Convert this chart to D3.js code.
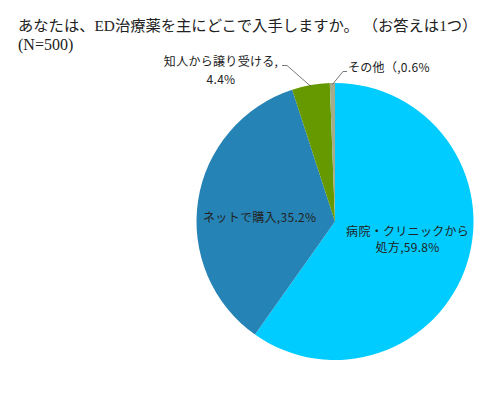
<!DOCTYPE html>
<html>
<head>
<meta charset="utf-8">
<script src="https://cdn.jsdelivr.net/npm/d3@7"></script>
<style>
body { margin: 0; background: #fff; }
</style>
</head>
<body>
<script>
const categories = ['病院・クリニックから処方', 'ネットで購入', '知人から譲り受ける', 'その他（'];
const values = [59.8, 35.2, 4.4, 0.6];
const colors = ['#00ccff', '#2683b5', '#669900', '#a3ad8c'];
const titleLines = ['あなたは、ED治療薬を主にどこで入手しますか。 （お答えは1つ）', '(N=500)'];

const width = 500;
const height = 395;

const svg = d3.select('body').append('svg')
  .attr('width', width)
  .attr('height', height);

svg.selectAll('text.title')
  .data(titleLines)
  .join('text')
  .attr('class', 'title')
  .attr('x', 18)
  .attr('y', (d, i) => 31 + i * 19)
  .attr('font-family', '"Liberation Serif", "Noto Sans CJK JP", serif')
  .attr('font-size', (d, i) => i === 0 ? 15.3 : 16)
  .attr('fill', '#222')
  .text(d => d);

const cx = 335, cy = 221.5, r = 138.5;

const data = categories.map((c, i) => ({ name: c, value: values[i], color: colors[i] }));

const pie = d3.pie().sort(null).value(d => d.value);
const arcs = pie(data);
const arc = d3.arc().innerRadius(0).outerRadius(r);
const inner = d3.arc().innerRadius(r * 0.55).outerRadius(r * 0.55);
const edge = d3.arc().innerRadius(r * 0.99).outerRadius(r * 0.99);

const g = svg.append('g').attr('transform', `translate(${cx},${cy})`);

g.selectAll('path')
  .data(arcs)
  .join('path')
  .attr('d', arc)
  .attr('fill', d => d.data.color)
  .attr('stroke', 'none');

const font = '"Noto Sans CJK JP", sans-serif';

// inside labels
const insideLabels = [
  { i: 0, lines: ['病院・クリニックから', '処方,59.8%'], dy: -5 },
  { i: 1, lines: ['ネットで購入,35.2%'], dy: 8 }
];
insideLabels.forEach(l => {
  const [x, y] = inner.centroid(arcs[l.i]);
  const t = g.append('text')
    .attr('x', x)
    .attr('y', y + l.dy)
    .attr('text-anchor', 'middle')
    .attr('font-family', font)
    .attr('font-size', 12)
    .attr('letter-spacing', 0.3)
    .attr('fill', '#222');
  t.selectAll('tspan')
    .data(l.lines)
    .join('tspan')
    .attr('x', x)
    .attr('dy', (d, k) => k === 0 ? -(l.lines.length - 1) * 8 + 4 : 16)
    .text(d => d);
});

// outside labels with leader lines
const outsideLabels = [
  { i: 2, lines: ['知人から譲り受ける,', '4.4%'], lx: -114, ly: -156, elbow: [-48, -156], tail: -5, anchor: 'middle' },
  { i: 3, lines: ['その他（,0.6%'], lx: 13, ly: -149.5, elbow: [8, -150], tail: 4, anchor: 'start' }
];
outsideLabels.forEach(l => {
  const [ex, ey] = edge.centroid(arcs[l.i]);
  const pts = [[ex, ey], l.elbow, [l.elbow[0] + l.tail, l.elbow[1]]];
  g.append('path')
    .attr('d', d3.line()(pts))
    .attr('fill', 'none')
    .attr('stroke', '#555')
    .attr('stroke-width', 0.8);
  const t = g.append('text')
    .attr('text-anchor', l.anchor)
    .attr('font-family', font)
    .attr('font-size', 12)
    .attr('letter-spacing', 0.3)
    .attr('fill', '#222');
  t.selectAll('tspan')
    .data(l.lines)
    .join('tspan')
    .attr('x', l.lx)
    .attr('y', (d, k) => l.ly + k * 18)
    .text(d => d);
});
</script>
</body>
</html>
